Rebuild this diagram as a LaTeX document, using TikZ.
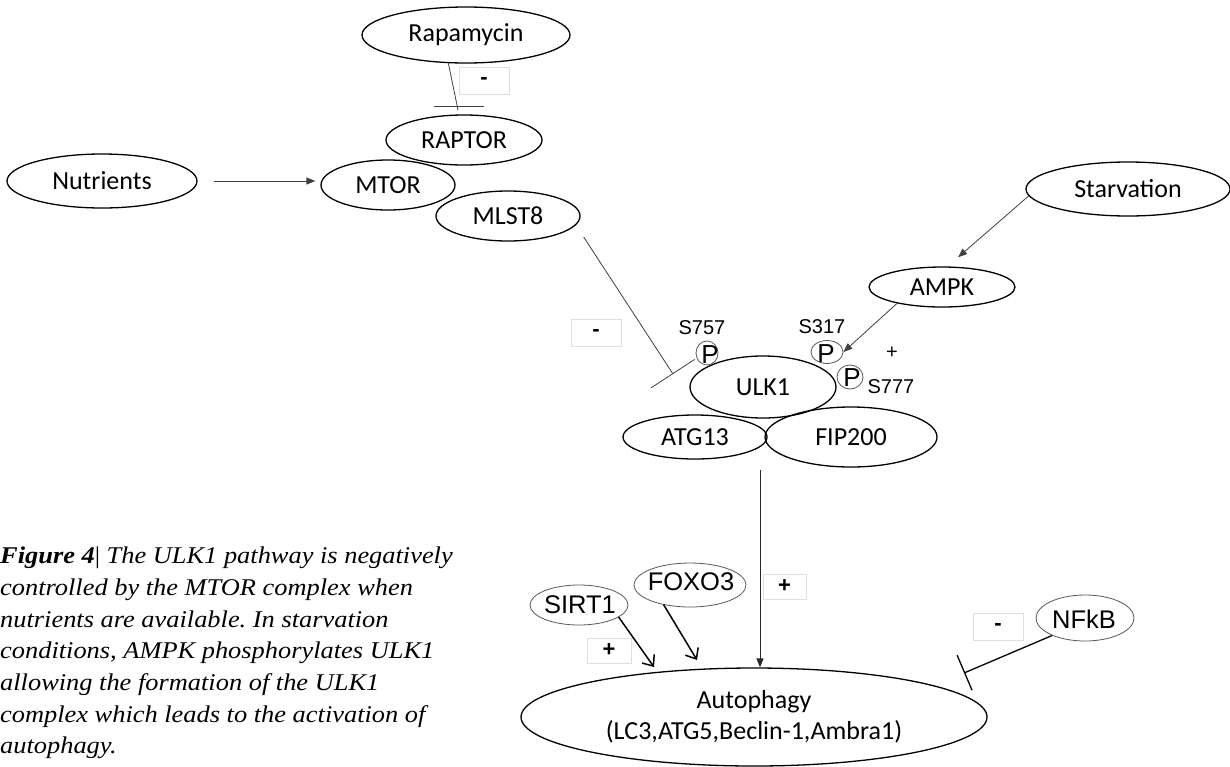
\documentclass[tikz,border=0pt]{standalone}
\usepackage{fontspec}
\newfontfamily\calf{Carlito}
\newfontfamily\arf{Liberation Sans}
\newfontfamily\serf[FakeStretch=1.1]{Liberation Serif}
\usetikzlibrary{shapes.geometric,arrows.meta,calc}
\frenchspacing
\begin{document}
\begin{tikzpicture}[x=1pt,y=-1pt,
  wh/.style 2 args={minimum width=#1pt,minimum height=#2pt},
  bigell/.style={ellipse,draw=black,line width=1.3pt,inner sep=0pt,font=\calf\fontsize{26}{31}\selectfont},
  smell/.style={ellipse,draw=black!65,line width=0.8pt,inner sep=0pt},
  artext/.style={inner sep=0pt,font=\arf\fontsize{25.5}{30}\selectfont},
  ptext/.style={inner sep=0pt,font=\arf\fontsize{26}{30}\selectfont},
  sitelbl/.style={inner sep=0pt,font=\arf\fontsize{20}{24}\selectfont},
  signbox/.style={draw=black!13,line width=0.8pt,inner sep=0pt,font=\arf\bfseries\fontsize{22}{24}\selectfont},
  conn/.style={draw=black!75,line width=0.8pt},
  thickconn/.style={draw=black,line width=1.5pt},
  arrtip/.style={-{Triangle[length=9pt,width=7pt]}},
  barbtip/.style={-{Straight Barb[length=9pt,width=15pt,line width=1.5pt]}},
  captxt/.style={inner sep=0pt,anchor=base west,font=\serf\itshape\fontsize{24}{31.7}\selectfont}
]
\fill[white] (0,0) rectangle (1230,766);
\useasboundingbox (0,0) rectangle (1230,766);

% mTOR complex
\node[bigell,wh={208}{56}] (rap) at (466,35) {Rapamycin};
\node[bigell,wh={156}{50}] (raptor) at (464,140) {RAPTOR};
\node[bigell,wh={134}{50}] (mtor) at (388,185) {MTOR};
\node[bigell,wh={144}{50}] (mlst8) at (508,216) {MLST8};
\node[bigell,wh={190}{54}] (nut) at (102,181) {Nutrients};

% starvation branch
\node[bigell,wh={204}{54}] (starv) at (1128,189) {Starvation};
\node[bigell,wh={146}{40}] (ampk) at (942,287) {AMPK};

% ULK1 complex
\node[bigell,wh={146}{62}] (ulk1) at (763,387) {ULK1};
\node[bigell,wh={144}{44}] (atg13) at (695,437) {ATG13};
\node[bigell,wh={172}{60}] (fip200) at (851,437) {FIP200};

% phospho sites
\node[smell,wh={22}{24}] (p757) at (707,353) {};
\node[ptext] (p757t) at (710,355) {P};
\node[smell,wh={32}{23}] (p317) at (827,352) {};
\node[ptext] (p317t) at (826,354) {P};
\node[smell,wh={26}{24}] (p777) at (850,377) {};
\node[ptext] (p777t) at (852,378) {P};
\node[sitelbl] (s757) at (702,328) {S757};
\node[sitelbl] (s317) at (822,327) {S317};
\node[sitelbl] (s777) at (891,387) {S777};
\node[sitelbl] (plusampk) at (892,353) {+};

% sign boxes
\node[signbox,wh={50}{27}] (minrap) at (484,80.5) {-};
\node[signbox,wh={50}{27}] (minmtor) at (596,332.5) {-};
\node[signbox,wh={43}{25}] (plusulk) at (784.5,586.5) {+};
\node[signbox,wh={44}{25}] (plussirt) at (609,650.5) {+};
\node[signbox,wh={50}{27}] (minnfkb) at (998,626.5) {-};

% autophagy and regulators
\node[bigell,wh={466}{98},align=center] (auto) at (754,717) {Autophagy\\(LC3,ATG5,Beclin-1,Ambra1)};
\node[smell,wh={98}{40}] (sirt1) at (579,605) {};
\node[artext] (sirt1t) at (580,605) {SIRT1};
\node[smell,wh={112}{44}] (foxo3) at (690,585) {};
\node[artext] (foxo3t) at (691,582) {FOXO3};
\node[smell,wh={98}{46}] (nfkb) at (1085,618) {};
\node[artext] (nfkbt) at (1084,619) {NFkB};

% connectors
\draw[conn,arrtip,shorten <=16pt,shorten >=5pt] (nut.east) -- (nut.east -| mtor.west);
\coordinate (rapEnd) at (458,110);
\draw[conn] (rap.238) -- (rapEnd);
\draw[conn] ($(rapEnd)+(-24,-4)$) -- ++(50,0);
\coordinate (mtorEnd) at (673,374);
\draw[conn,-{Bar[width=52pt,line width=0.8pt]}] ($(mlst8.east)+(3,21)$) -- (mtorEnd);
\draw[conn,arrtip,shorten >=14pt] (starv.184) -- (ampk.75);
\draw[conn,arrtip] (ampk.200) -- (p317.east);
\coordinate (cplx) at (760,470);
\draw[conn,draw=black!85,line width=1pt,arrtip] (cplx) -- (cplx |- auto.north);
\coordinate (sirtTip) at (654,667);
\coordinate (foxoTip) at (697,660);
\draw[thickconn,barbtip] (sirt1.-17) -- (sirtTip);
\draw[thickconn,barbtip] (foxo3.217) -- (foxoTip);
\coordinate (nfkbEnd) at (964,673);
\draw[draw=black,line width=1.3pt,-{Bar[width=38pt,line width=1.3pt]}] (nfkb.208) -- (nfkbEnd);

% caption
\node[captxt] (c1) at (0,563) {\textbf{Figure 4}{\upshape|} The ULK1 pathway is negatively};
\node[captxt] (c2) at (0,595) {controlled by the MTOR complex when};
\node[captxt] (c3) at (0,627) {nutrients are available. In starvation};
\node[captxt] (c4) at (0,658) {conditions, AMPK phosphorylates ULK1};
\node[captxt] (c5) at (0,690) {allowing the formation of the ULK1};
\node[captxt] (c6) at (0,722) {complex which leads to the activation of};
\node[captxt] (c7) at (0,753) {autophagy.};
\end{tikzpicture}
\end{document}
